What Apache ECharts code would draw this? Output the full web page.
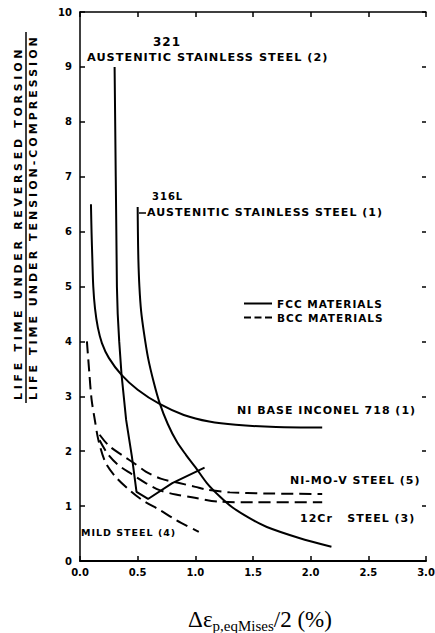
<!DOCTYPE html>
<html><head><meta charset="utf-8">
<script src="https://cdn.jsdelivr.net/npm/echarts@6/dist/echarts.min.js"></script>
<style>
html,body{margin:0;padding:0;background:#fff;}
#c{width:435px;height:633px;}
#c text[style*="Lbl1"]{letter-spacing:1px;}
#c text[style*="Ytl3"]{letter-spacing:3px;}
#c text[style*="Ytl4"]{letter-spacing:3.7px;}
</style></head><body><div id="c"></div>
<script>
// ---- tick labels ----
const xTickLabels = ['0.0','0.5','1.0','1.5','2.0','2.5','3.0'];
const yTickLabels = ['0','1','2','3','4','5','6','7','8','9','10'];
// ---- series names (legend groups) ----
const FCC = 'FCC MATERIALS';
const BCC = 'BCC MATERIALS';
// ---- series values [x, y] ----
const inconel718 = [[0.095,6.5],[0.10,6.0],[0.107,5.5],[0.115,5.0],[0.13,4.6],[0.155,4.25],[0.19,3.97],[0.25,3.7],[0.36,3.39],[0.5,3.12],[0.69,2.86],[0.9,2.66],[1.12,2.54],[1.35,2.48],[1.7,2.44],[2.1,2.43]];
const steel321 = [[0.30,9.0],[0.305,8.0],[0.31,7.0],[0.315,6.0],[0.32,5.0],[0.327,4.5],[0.34,4.0],[0.36,3.4],[0.40,2.57],[0.45,1.9],[0.49,1.26],[0.59,1.13],[0.80,1.42],[1.08,1.70]];
const steel316L = [[0.50,6.45],[0.502,6.0],[0.506,5.5],[0.515,5.0],[0.53,4.55],[0.555,4.15],[0.59,3.7],[0.64,3.25],[0.69,2.88],[0.76,2.5],[0.84,2.17],[0.92,1.93],[1.0,1.71],[1.1,1.42],[1.21,1.18],[1.32,0.98],[1.47,0.78],[1.62,0.62],[1.9,0.42],[2.18,0.26]];
const niMoV = [[0.17,2.3],[0.25,2.1],[0.37,1.92],[0.47,1.78],[0.57,1.63],[0.7,1.5],[0.86,1.42],[1.0,1.35],[1.1,1.3],[1.3,1.25],[1.6,1.23],[2.1,1.22]];
const cr12 = [[0.17,2.2],[0.24,1.95],[0.33,1.75],[0.45,1.58],[0.57,1.42],[0.69,1.29],[0.83,1.21],[0.97,1.16],[1.21,1.08],[1.5,1.07],[2.1,1.07]];
const mildSteel = [[0.06,4.0],[0.08,3.45],[0.10,2.95],[0.13,2.55],[0.16,2.2],[0.22,1.8],[0.31,1.53],[0.43,1.29],[0.54,1.11],[0.69,0.93],[0.83,0.75],[1.03,0.53]];

const chart = echarts.init(document.getElementById('c'), null, {renderer:'svg'});
const LBL = 'DejaVu Sans, Lbl1';
const DASH = [12,6];
function mk(name, data, dashed, smooth){
  return {type:'line', name:name, data:data, symbol:'none', smooth:smooth, silent:true,
    lineStyle:{color:'#000', width:2, type: dashed ? DASH : 'solid'}, itemStyle:{color:'#000'}};
}
function lbl(text, x, y, size){
  return {type:'text', x:x, y:y, silent:true, style:{text:text, fill:'#000', fontSize:size, fontWeight:'bold', fontFamily:LBL, align:'left', textAlign:'left', verticalAlign:'middle', textVerticalAlign:'middle'}};
}
function ytitle(text, x, fam){
  return {type:'text', x:x, y:400, rotation:Math.PI/2, silent:true, style:{text:text, fill:'#000', fontSize:11, fontWeight:'bold', fontFamily:fam, align:'left', textAlign:'left', verticalAlign:'middle', textVerticalAlign:'middle'}};
}
const option = {
  backgroundColor:'#fff',
  animation:false,
  grid:{left:80, right:9, top:12, bottom:72, containLabel:false, outerBoundsMode:'none'},
  legend:{orient:'vertical', left:238, top:293, itemWidth:28, itemHeight:10, itemGap:3, selectedMode:false,
    itemStyle:{opacity:0},
    textStyle:{fontSize:10.5, fontWeight:'bold', fontFamily:LBL, color:'#000'},
    data:[{name:FCC},{name:BCC, lineStyle:{type:[7,3.5]}}]},
  xAxis:[{
    type:'value', min:0, max:3, interval:0.5, position:'bottom',
    axisLine:{onZero:false, lineStyle:{color:'#000', width:2}},
    axisTick:{inside:true, length:5, lineStyle:{color:'#000', width:1.5}},
    axisLabel:{formatter:v=>xTickLabels[Math.round(v/0.5)], fontSize:10, fontWeight:'bold', fontFamily:'DejaVu Sans', color:'#000', margin:6},
    splitLine:{show:false},
    name:'{a|Δε}{s|p,eqMises}{a|/2 (%)}', nameLocation:'middle', nameGap:44,
    nameTextStyle:{fontFamily:'Liberation Serif', color:'#000', padding:[0,0,0,14],
      rich:{a:{fontSize:23, fontFamily:'Liberation Serif', color:'#000', lineHeight:28},
            s:{fontSize:15, fontFamily:'Liberation Serif', color:'#000', verticalAlign:'bottom', lineHeight:18}}}
  },{
    type:'value', min:0, max:3, interval:0.5, position:'top',
    axisLine:{show:true, onZero:false, lineStyle:{color:'#000', width:1.5}},
    axisTick:{inside:true, length:5, lineStyle:{color:'#000', width:1.5}},
    axisLabel:{show:false}, splitLine:{show:false}
  }],
  yAxis:[{
    type:'value', min:0, max:10, interval:1, position:'left',
    axisLine:{show:true, onZero:false, lineStyle:{color:'#000', width:1.5}},
    axisTick:{inside:true, length:5, lineStyle:{color:'#000', width:1.5}},
    axisLabel:{formatter:v=>yTickLabels[Math.round(v)], fontSize:10, fontWeight:'bold', fontFamily:'DejaVu Sans', color:'#000', margin:8},
    splitLine:{show:false}
  },{
    type:'value', min:0, max:10, interval:1, position:'right',
    axisLine:{show:false, onZero:false},
    axisTick:{show:true, inside:true, length:4, lineStyle:{color:'#000', width:1.5}},
    axisLabel:{show:false}, splitLine:{show:false}
  }],
  graphic:[
    ytitle('LIFE TIME UNDER REVERSED TORSION', 18, 'DejaVu Sans, Ytl4'),
    ytitle('LIFE TIME UNDER TENSION-COMPRESSION', 33, 'DejaVu Sans, Ytl3'),
    {type:'line', silent:true, shape:{x1:26, y1:32, x2:26, y2:403}, style:{stroke:'#000', lineWidth:1.5}},
    lbl('321', 153, 42, 12),
    lbl('AUSTENITIC STAINLESS STEEL (2)', 87, 57, 11.3),
    lbl('316L', 152, 196, 10),
    {type:'line', silent:true, shape:{x1:139, y1:213, x2:146, y2:213}, style:{stroke:'#000', lineWidth:1.5}},
    lbl('AUSTENITIC STAINLESS STEEL (1)', 147, 212, 11),
    lbl('NI BASE INCONEL 718 (1)', 237, 410, 11),
    lbl('NI-MO-V STEEL (5)', 290, 480, 11),
    lbl('12Cr   STEEL (3)', 300, 518, 11),
    lbl('MILD STEEL (4)', 81, 532, 9.5)
  ],
  series:[
    mk(FCC, inconel718, false, 0.3),
    mk(FCC, steel321, false, false),
    mk(FCC, steel316L, false, 0.3),
    mk(BCC, niMoV, true, 0.3),
    mk(BCC, cr12, true, 0.3),
    mk(BCC, mildSteel, true, 0.3)
  ]
};
chart.setOption(option);
</script></body></html>
